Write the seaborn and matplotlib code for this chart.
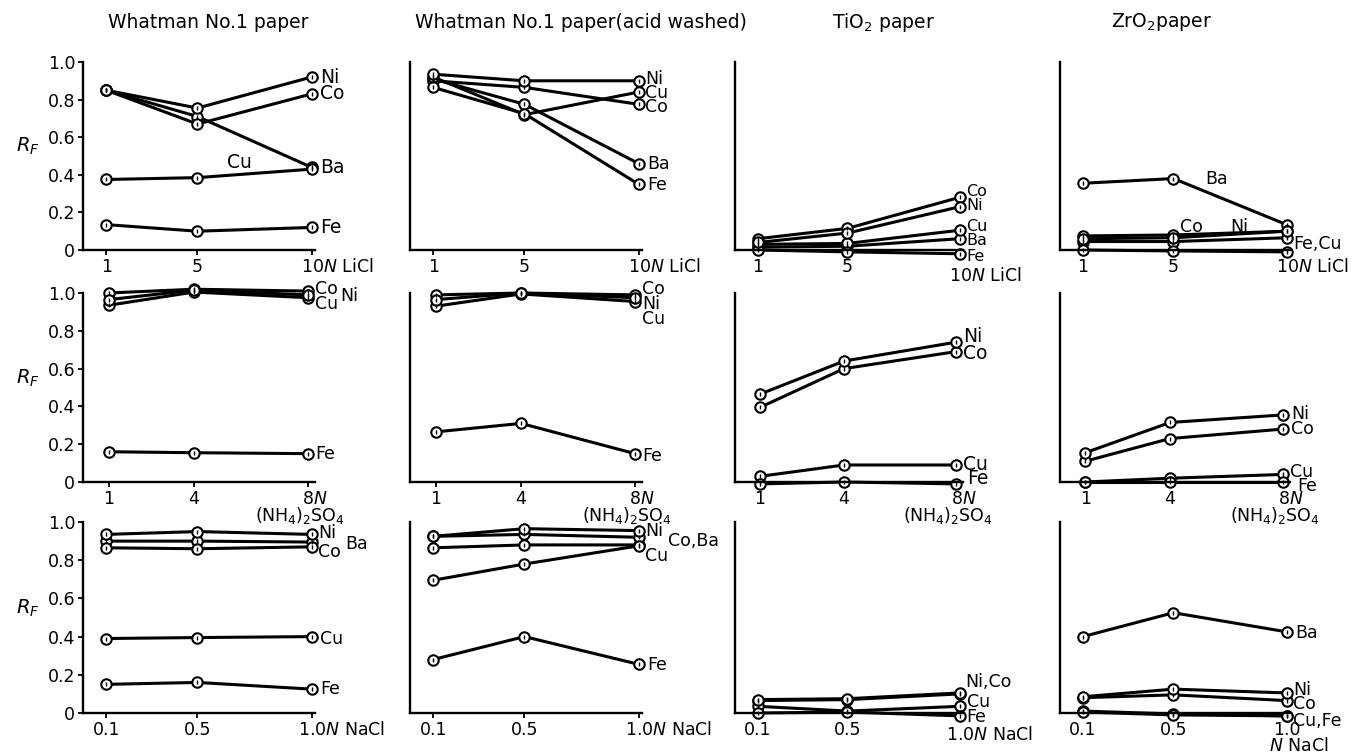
import numpy as np
import pandas as pd
import matplotlib
matplotlib.use("Agg")
import matplotlib.pyplot as plt
import seaborn as sns

# ---------------- data ----------------
x_licl = [1, 5, 10]
x_nh4 = [1, 4, 8]
x_nacl = [0.1, 0.5, 1.0]

column_titles = ["Whatman No.1 paper", "Whatman No.1 paper(acid washed)",
                 "TiO$_2$ paper", "ZrO$_2$paper"]

# Row 1 : LiCl
whatman_licl = {"Ni": [0.85, 0.755, 0.92], "Co": [0.85, 0.67, 0.83],
                "Ba": [0.85, 0.71, 0.44], "Cu": [0.375, 0.385, 0.43],
                "Fe": [0.135, 0.10, 0.12]}
acid_licl = {"Ni": [0.935, 0.90, 0.90], "Cu": [0.92, 0.72, 0.84],
             "Co": [0.90, 0.865, 0.775], "Ba": [0.91, 0.775, 0.46],
             "Fe": [0.865, 0.725, 0.35]}
tio2_licl = {"Co": [0.06, 0.115, 0.28], "Ni": [0.04, 0.09, 0.23],
             "Cu": [0.03, 0.035, 0.105], "Ba": [0.015, 0.02, 0.06],
             "Fe": [0.0, -0.01, -0.02]}
zro2_licl = {"Ba": [0.355, 0.38, 0.135], "Co": [0.075, 0.08, 0.10],
             "Ni": [0.06, 0.065, 0.10], "Cu": [0.045, 0.045, 0.065],
             "Fe": [0.0, -0.005, -0.01]}

# Row 2 : (NH4)2SO4
whatman_nh4 = {"Co": [1.0, 1.02, 1.01], "Ni": [0.965, 1.015, 0.99],
               "Cu": [0.935, 1.005, 0.975], "Fe": [0.16, 0.155, 0.15]}
acid_nh4 = {"Co": [0.99, 1.0, 0.99], "Ni": [0.965, 1.0, 0.975],
            "Cu": [0.93, 0.995, 0.955], "Fe": [0.265, 0.31, 0.15]}
tio2_nh4 = {"Ni": [0.465, 0.64, 0.74], "Co": [0.395, 0.60, 0.69],
            "Cu": [0.03, 0.09, 0.09], "Fe": [-0.01, 0.0, -0.01]}
zro2_nh4 = {"Ni": [0.155, 0.315, 0.355], "Co": [0.11, 0.23, 0.28],
            "Cu": [0.0, 0.02, 0.04], "Fe": [0.0, 0.0, 0.0]}

# Row 3 : NaCl
whatman_nacl = {"Ni": [0.935, 0.95, 0.935], "Ba": [0.90, 0.90, 0.895],
                "Co": [0.865, 0.86, 0.87], "Cu": [0.39, 0.395, 0.40],
                "Fe": [0.15, 0.16, 0.125]}
acid_nacl = {"Ni": [0.925, 0.965, 0.955], "Co": [0.925, 0.935, 0.92],
             "Ba": [0.865, 0.88, 0.88], "Cu": [0.695, 0.78, 0.875],
             "Fe": [0.28, 0.40, 0.255]}
tio2_nacl = {"Ni": [0.07, 0.075, 0.105], "Co": [0.065, 0.07, 0.10],
             "Cu": [0.035, 0.01, 0.035], "Fe": [0.0, 0.005, -0.015]}
zro2_nacl = {"Ba": [0.40, 0.525, 0.425], "Ni": [0.085, 0.125, 0.105],
             "Co": [0.08, 0.095, 0.065], "Cu": [0.01, -0.005, -0.015],
             "Fe": [0.005, -0.01, -0.015]}

yticks = [0, 0.2, 0.4, 0.6, 0.8, 1.0]
ytick_labels = ["0", "0.2", "0.4", "0.6", "0.8", "1.0"]

# ---------------- layout ----------------
sns.set_theme(style="white")
plt.rcParams["font.family"] = ["DejaVu Sans"]
plt.rcParams["mathtext.fontset"] = "dejavusans"

W, H = 1361, 753
fig = plt.figure(figsize=(W / 100, H / 100), dpi=100)

col_left = [83, 410, 735, 1060]
col_width = [232, 232, 228, 230]
row_top = [62, 293, 522]
row_bottom = [250, 482, 713]
title_cx = [208, 581, 884, 1161]

row_x = [x_licl, x_nh4, x_nacl]
row_frac = [(0.10, 0.985), (0.11, 0.97), (0.10, 0.985)]
row_ticklabels = [["1", "5", ""], ["1", "4", ""], ["0.1", "0.5", ""]]
FS = 12.5   # tick labels
LS = 13.5   # curve labels

panels = [
    [whatman_licl, acid_licl, tio2_licl, zro2_licl],
    [whatman_nh4, acid_nh4, tio2_nh4, zro2_nh4],
    [whatman_nacl, acid_nacl, tio2_nacl, zro2_nacl],
]

# curve labels: (text, y, dx_pt, x or None)
labels = {
    (0, 0): [("Ni", 0.92, 6, None), ("Co", 0.83, 6, None), ("Ba", 0.44, 6, None),
             ("Fe", 0.12, 6, None), ("Cu", 0.465, 0, 6.85)],
    (0, 1): [("Ni", 0.91, 5, None), ("Cu", 0.835, 5, None), ("Co", 0.76, 5, None),
             ("Ba", 0.46, 6, None), ("Fe", 0.345, 6, None)],
    (0, 2): [("Co", 0.31, 5, None), ("Ni", 0.235, 5, None), ("Cu", 0.125, 5, None),
             ("Ba", 0.05, 5, None), ("Fe", -0.035, 5, None)],
    (0, 3): [("Ba", 0.38, 0, 6.9), ("Co", 0.125, 0, 5.8), ("Ni", 0.125, 0, 7.9),
             ("Fe,Cu", 0.03, 5, None)],
    (1, 0): [("Co", 1.02, 5, None), ("Ni", 0.985, 23, None), ("Cu", 0.94, 5, None),
             ("Fe", 0.15, 5, None)],
    (1, 1): [("Co", 1.02, 5, None), ("Ni", 0.94, 5, None), ("Cu", 0.86, 5, None),
             ("Fe", 0.14, 5, None)],
    (1, 2): [("Ni", 0.77, 5, None), ("Co", 0.68, 5, None), ("Cu", 0.095, 5, None),
             ("Fe", 0.02, 8, None)],
    (1, 3): [("Ni", 0.36, 6, None), ("Co", 0.28, 6, None), ("Cu", 0.055, 5, None),
             ("Fe", -0.02, 10, None)],
    (2, 0): [("Ni", 0.945, 5, None), ("Ba", 0.885, 24, None), ("Co", 0.845, 5, None),
             ("Cu", 0.39, 6, None), ("Fe", 0.125, 6, None)],
    (2, 1): [("Ni", 0.955, 5, None), ("Co,Ba", 0.9, 21, None), ("Cu", 0.82, 5, None),
             ("Fe", 0.25, 6, None)],
    (2, 2): [("Ni,Co", 0.16, 4, None), ("Cu", 0.06, 5, None), ("Fe", -0.02, 5, None)],
    (2, 3): [("Ba", 0.42, 6, None), ("Ni", 0.12, 5, None), ("Co", 0.045, 5, None),
             ("Cu,Fe", -0.04, 5, None)],
}
small_label_panels = {(0, 1): 12.5, (0, 2): 11.5, (2, 2): 12.5, (2, 3): 12.5,
                      (1, 0): 12.5, (1, 1): 12.5, (2, 0): 12.5, (2, 1): 12.5,
                      (0, 3): 12.5, (1, 3): 12.5}

for r in range(3):
    xs = row_x[r]
    f1, f2 = row_frac[r]
    scale = (xs[-1] - xs[0]) / (f2 - f1)
    x_left = xs[0] - f1 * scale
    for c in range(4):
        ax = fig.add_axes([col_left[c] / W, 1 - row_bottom[r] / H,
                           col_width[c] / W, (row_bottom[r] - row_top[r]) / H])
        data = panels[r][c]
        df = pd.DataFrame([(m, x, v) for m, vals in data.items() for x, v in zip(xs, vals)],
                          columns=["metal", "x", "rf"])
        sns.lineplot(data=df, x="x", y="rf", units="metal", estimator=None, sort=False,
                     color="black", lw=2.2, marker="o", markersize=7.5,
                     markerfacecolor="white", markeredgecolor="black",
                     markeredgewidth=1.5, ax=ax, legend=False, clip_on=False)
        sns.scatterplot(data=df, x="x", y="rf", marker="|", s=12, color="black",
                        linewidth=1.0, ax=ax, legend=False, clip_on=False, zorder=5)
        ax.set_xlim(x_left, x_left + scale)
        ax.set_ylim(0, 1.0)
        ax.set_xlabel("")
        ax.set_ylabel("")
        for s in ["top", "right"]:
            ax.spines[s].set_visible(False)
        for s in ["left", "bottom"]:
            ax.spines[s].set_color("black")
            ax.spines[s].set_linewidth(1.7)
        ax.set_xticks(xs)
        ax.set_xticklabels(row_ticklabels[r])
        ax.tick_params(axis="x", bottom=True, direction="out", length=3.5, width=1.3,
                       pad=2, labelsize=FS, colors="black")
        if c == 0:
            ax.set_yticks(yticks)
            ax.set_yticklabels(ytick_labels)
            ax.tick_params(axis="y", left=True, direction="out", length=3.5, width=1.3,
                           pad=2, labelsize=FS, colors="black")
        else:
            ax.set_yticks([])
        ax.grid(False)
        ax.set_facecolor("none")

        # unit text on last tick
        xl = xs[-1]
        if r == 0:
            dy = -12.5 if c == 2 else -5.5
            ax.annotate("10$N$ LiCl", xy=(xl, 0), xycoords=("data", "axes fraction"),
                        xytext=(-7.8, dy), textcoords="offset points", ha="left", va="top",
                        fontsize=FS, color="black")
        elif r == 1:
            ax.annotate("8$N$", xy=(xl, 0), xycoords=("data", "axes fraction"),
                        xytext=(-4, -5.5), textcoords="offset points", ha="left", va="top",
                        fontsize=FS, color="black")
            ax.annotate("(NH$_4$)$_2$SO$_4$", xy=(xl, 0), xycoords=("data", "axes fraction"),
                        xytext=(-6, -16.5), textcoords="offset points", ha="center", va="top",
                        fontsize=FS, color="black")
        else:
            if c == 3:
                ax.annotate("1.0", xy=(xl, 0), xycoords=("data", "axes fraction"),
                            xytext=(0, -5.5), textcoords="offset points", ha="center",
                            va="top", fontsize=FS, color="black")
                ax.annotate("$N$ NaCl", xy=(xl, 0), xycoords=("data", "axes fraction"),
                            xytext=(9, -17), textcoords="offset points", ha="center",
                            va="top", fontsize=FS, color="black")
            else:
                dy = -9 if c == 2 else -5.5
                ax.annotate("1.0$N$ NaCl", xy=(xl, 0), xycoords=("data", "axes fraction"),
                            xytext=(-9.7, dy), textcoords="offset points", ha="left",
                            va="top", fontsize=FS, color="black")

        ls = small_label_panels.get((r, c), LS)
        for text, yv, dx, xv in labels[(r, c)]:
            if xv is None:
                ax.annotate(text, xy=(xl, yv), xytext=(dx, 0), textcoords="offset points",
                            ha="left", va="center", fontsize=ls, color="black",
                            annotation_clip=False)
            else:
                ax.text(xv, yv, text, ha="center", va="center", fontsize=ls, color="black")

        if r == 0:
            fig.text(title_cx[c] / W, 1 - 22 / H, column_titles[c], fontsize=13.5,
                     ha="center", va="center", color="black")

    fig.text(28 / W, 1 - (row_bottom[r] - 0.55 * (row_bottom[r] - row_top[r])) / H,
             "$R_F$", fontsize=14, ha="center", va="center", color="black")

fig.savefig("out.png", dpi=100)
